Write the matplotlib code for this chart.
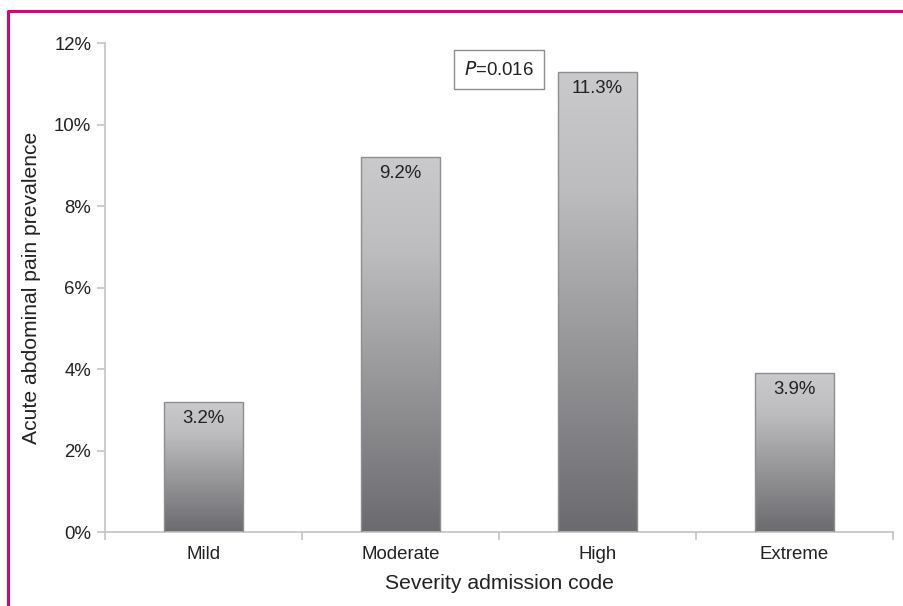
import numpy as np
import matplotlib
matplotlib.use("Agg")
import matplotlib.pyplot as plt
from matplotlib.colors import LinearSegmentedColormap
from matplotlib.lines import Line2D

plt.rcParams['font.family'] = ['Liberation Sans', 'DejaVu Sans']

# severity groups and prevalence (%)
categories = ["Mild", "Moderate", "High", "Extreme"]
prevalence = [3.2, 9.2, 11.3, 3.9]
bar_labels = ["3.2%", "9.2%", "11.3%", "3.9%"]
y_ticks = [0, 2, 4, 6, 8, 10, 12]
p_text = "$\\it{P}$=0.016"

fig = plt.figure(figsize=(9.04, 6.06), dpi=100)
ax = fig.add_axes([0.1162, 0.1221, 0.8716, 0.8069])

# grey vertical gradient for the bars, light on top
grad = LinearSegmentedColormap.from_list(
    "bar", [(0.0, "#6b6b6f"), (0.45, "#9c9c9f"), (0.75, "#bdbdc0"), (1.0, "#cacacc")])
gradient = np.linspace(0, 1, 256).reshape(-1, 1)

width = 0.4
x = np.arange(len(categories))
bars = ax.bar(x, prevalence, width=width, color="none", edgecolor="#8e8e90",
              linewidth=1.0, zorder=3)
for b in bars:
    x0, y0 = b.get_x(), b.get_y()
    w, h = b.get_width(), b.get_height()
    im = ax.imshow(gradient, cmap=grad, origin="lower", aspect="auto",
                   extent=[x0, x0 + w, y0, y0 + h], zorder=2)
    im.set_clip_path(b)

for xi, v, lab in zip(x, prevalence, bar_labels):
    ax.text(xi, v - 0.2, lab, ha="center", va="top", fontsize=13.4,
            color="#222222", zorder=4)

ax.set_xlim(-0.5, len(categories) - 0.5)
ax.set_ylim(0, 12)
ax.set_yticks(y_ticks)
ax.set_yticklabels([f"{t}%" for t in y_ticks], fontsize=13.4, color="#222222")
ax.set_xticks(x)
ax.set_xticklabels(categories, fontsize=13.4, color="#222222")
ax.set_xticks(np.arange(-0.5, len(categories), 1.0), minor=True)
ax.tick_params(axis="x", which="major", length=0, pad=10)
ax.tick_params(axis="x", which="minor", length=6, color="#c4c4c4", width=1.2)
ax.tick_params(axis="y", length=6, color="#c4c4c4", width=1.2, pad=4)

for s in ["top", "right"]:
    ax.spines[s].set_visible(False)
for s in ["left", "bottom"]:
    ax.spines[s].set_color("#c4c4c4")
    ax.spines[s].set_linewidth(1.2)

ax.set_ylabel("Acute abdominal pain prevalence", fontsize=15.2, color="#222222",
              labelpad=9)
ax.set_xlabel("Severity admission code", fontsize=15.2, color="#222222", labelpad=8)

ax.text(1.5, 11.35, p_text, ha="center", va="center", fontsize=13.4, color="#222222",
        bbox=dict(boxstyle="square,pad=0.55", fc="white", ec="#8e8e90", lw=1.0),
        zorder=5)

# magenta frame line on the left and top edges
fig.add_artist(Line2D([0.0083, 0.0083, 1.0], [0.0, 0.9818, 0.9818],
                      transform=fig.transFigure, color="#e2006e", lw=2.2))

fig.savefig("out.png", dpi=100)
